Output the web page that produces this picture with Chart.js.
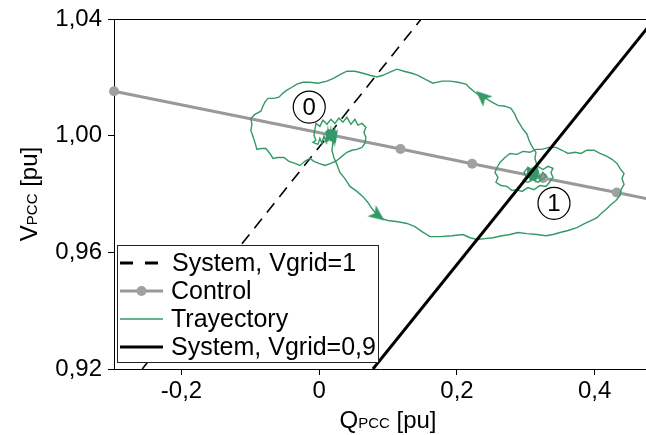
<!DOCTYPE html>
<html>
<head>
<meta charset="utf-8">
<title>VPCC - QPCC</title>
<script src="https://cdn.jsdelivr.net/npm/chart.js@4.4.0/dist/chart.umd.min.js"></script>
<style>
  html, body { margin: 0; padding: 0; background: #fff; }
  #main { width: 646px; height: 435px; }
</style>
</head>
<body>
<div id="main"><canvas id="myChart" width="646" height="435"></canvas></div>
<script>
// axes
var qTicks = [-0.2, 0, 0.2, 0.4];
var qTickLabels = ['-0,2', '0', '0,2', '0,4'];
var vTicks = [0.92, 0.96, 1.00, 1.04];
var vTickLabels = ['0,92', '0,96', '1,00', '1,04'];

// series
var legendLabels = ['System, Vgrid=1', 'Control', 'Trayectory', 'System, Vgrid=0,9'];

var system1Q = [-0.257, 0.148];
var system1V = [0.92, 1.04];

var system09Q = [0.078, 0.487];
var system09V = [0.92, 1.04];

var controlQ = [-0.298, 0.017, 0.118, 0.222, 0.325, 0.432, 0.535];
var controlV = [1.0152, 1.0002, 0.9954, 0.9904, 0.9855, 0.9805, 0.9756];

var trajQ = [
  0.0170, 0.0199, 0.0184, 0.0213, 0.0257, 0.0300, 0.0373, 0.0446, 0.0547, 0.0635,
  0.0707, 0.0765, 0.0824, 0.0896, 0.0998, 0.1143, 0.1274, 0.1390, 0.1492, 0.1608,
  0.1753, 0.1927, 0.2087, 0.2189, 0.2290, 0.2407, 0.2523, 0.2654, 0.2770, 0.2886,
  0.3017, 0.3162, 0.3293, 0.3394, 0.3496, 0.3612, 0.3743, 0.3859, 0.3946, 0.4033,
  0.4106, 0.4179, 0.4237, 0.4309, 0.4367, 0.4382, 0.4426, 0.4396, 0.4426, 0.4367,
  0.4324, 0.4251, 0.4179, 0.4077, 0.3990, 0.3888, 0.3801, 0.3714, 0.3612, 0.3525,
  0.3438, 0.3336, 0.3234, 0.3147, 0.3060, 0.2959, 0.2871, 0.2770, 0.2697, 0.2625,
  0.2581, 0.2552, 0.2596, 0.2566, 0.2639, 0.2726, 0.2799, 0.2871, 0.2944, 0.3031,
  0.3118, 0.3205, 0.3293, 0.3351, 0.3394, 0.3365, 0.3394, 0.3322, 0.3249, 0.3176,
  0.3104, 0.3031, 0.2973, 0.3002, 0.2959, 0.3031, 0.3104, 0.3176, 0.3249, 0.3293,
  0.3249, 0.3205, 0.3176, 0.3147, 0.3118, 0.3089, 0.3060, 0.3046, 0.3075, 0.3104,
  0.3133, 0.3162, 0.3147,
  0.3133, 0.3104, 0.3075, 0.3046, 0.3017, 0.3031, 0.3060, 0.3089, 0.3118, 0.3147,
  0.3176, 0.3162,
  0.3162, 0.3133, 0.3147, 0.3089, 0.3046, 0.3017, 0.2959, 0.2915, 0.2871, 0.2842,
  0.2784, 0.2697, 0.2596, 0.2508, 0.2436, 0.2349, 0.2261, 0.2189, 0.2131, 0.2014,
  0.1898, 0.1782, 0.1651, 0.1535, 0.1434, 0.1346, 0.1230, 0.1129, 0.1027, 0.0925,
  0.0838, 0.0736, 0.0635, 0.0518, 0.0402, 0.0315, 0.0213, 0.0112, -0.0019, -0.0135,
  -0.0237, -0.0324, -0.0397, -0.0469, -0.0527, -0.0585, -0.0658, -0.0745, -0.0789, -0.0818,
  -0.0847, -0.0934, -0.0992, -0.0978, -0.0992, -0.0963, -0.0934, -0.0905, -0.0847, -0.0774,
  -0.0716, -0.0672, -0.0600, -0.0513, -0.0440, -0.0353, -0.0280, -0.0208, -0.0135, -0.0077,
  -0.0004, 0.0083, 0.0170, 0.0257, 0.0329, 0.0402, 0.0475, 0.0547, 0.0620, 0.0664,
  0.0678, 0.0649, 0.0678, 0.0620, 0.0562, 0.0518, 0.0460, 0.0402, 0.0344, 0.0286,
  0.0228, 0.0170, 0.0112, 0.0054, 0.0010, -0.0048, -0.0062, -0.0077, -0.0048, -0.0092,
  -0.0019, 0.0010, 0.0039, 0.0068, 0.0097, 0.0112, 0.0126, 0.0141, 0.0155, 0.0170,
  0.0184, 0.0199, 0.0213, 0.0228, 0.0242, 0.0257, 0.0213, 0.0184,
  0.0242, 0.0228, 0.0213, 0.0199, 0.0184, 0.0170, 0.0155, 0.0141, 0.0126, 0.0112,
  0.0097, 0.0126, 0.0155, 0.0184
];
var trajV = [
  1.0001, 0.9977, 0.9950, 0.9925, 0.9901, 0.9874, 0.9853, 0.9826, 0.9809, 0.9791,
  0.9771, 0.9750, 0.9733, 0.9716, 0.9709, 0.9705, 0.9699, 0.9688, 0.9671, 0.9654,
  0.9654, 0.9657, 0.9661, 0.9650, 0.9644, 0.9647, 0.9650, 0.9657, 0.9661, 0.9668,
  0.9664, 0.9661, 0.9657, 0.9661, 0.9668, 0.9675, 0.9685, 0.9699, 0.9709, 0.9719,
  0.9736, 0.9750, 0.9764, 0.9778, 0.9795, 0.9815, 0.9833, 0.9853, 0.9870, 0.9888,
  0.9905, 0.9919, 0.9929, 0.9939, 0.9950, 0.9950, 0.9939, 0.9943, 0.9939, 0.9950,
  0.9960, 0.9960, 0.9953, 0.9953, 0.9943, 0.9946, 0.9936, 0.9939, 0.9925, 0.9908,
  0.9891, 0.9874, 0.9857, 0.9840, 0.9829, 0.9826, 0.9812, 0.9815, 0.9809, 0.9822,
  0.9815, 0.9829, 0.9826, 0.9843, 0.9857, 0.9874, 0.9888, 0.9895, 0.9884, 0.9895,
  0.9881, 0.9891, 0.9874, 0.9860, 0.9846, 0.9840, 0.9850, 0.9840, 0.9853, 0.9860,
  0.9874, 0.9853, 0.9881, 0.9850, 0.9884, 0.9853, 0.9881, 0.9857, 0.9877, 0.9853,
  0.9881, 0.9857, 0.9874,
  0.9850, 0.9884, 0.9850, 0.9881, 0.9853, 0.9884, 0.9853, 0.9884, 0.9853, 0.9881,
  0.9853, 0.9874,
  0.9898, 0.9922, 0.9943, 0.9963, 0.9984, 1.0005, 1.0022, 1.0039, 1.0056, 1.0073,
  1.0094, 1.0101, 1.0104, 1.0115, 1.0125, 1.0135, 1.0149, 1.0163, 1.0177, 1.0183,
  1.0187, 1.0187, 1.0180, 1.0194, 1.0207, 1.0214, 1.0221, 1.0228, 1.0218, 1.0207,
  1.0201, 1.0207, 1.0214, 1.0221, 1.0221, 1.0211, 1.0197, 1.0187, 1.0180, 1.0183,
  1.0183, 1.0177, 1.0166, 1.0156, 1.0146, 1.0132, 1.0128, 1.0128, 1.0115, 1.0101,
  1.0084, 1.0073, 1.0060, 1.0039, 1.0018, 0.9998, 0.9977, 0.9953, 0.9956, 0.9956,
  0.9939, 0.9922, 0.9925, 0.9925, 0.9912, 0.9905, 0.9898, 0.9912, 0.9922, 0.9912,
  0.9905, 0.9898, 0.9905, 0.9915, 0.9929, 0.9943, 0.9950, 0.9953, 0.9960, 0.9974,
  0.9994, 1.0011, 1.0029, 1.0042, 1.0036, 1.0056, 1.0039, 1.0063, 1.0046, 1.0060,
  1.0042, 1.0056, 1.0039, 1.0053, 1.0032, 1.0042, 1.0022, 1.0001, 0.9984, 0.9977,
  0.9970, 0.9991, 0.9974, 0.9998, 0.9980, 1.0018, 0.9980, 1.0022, 0.9984, 1.0018,
  0.9984, 1.0022, 0.9987, 1.0018, 0.9991, 1.0015, 1.0001, 1.0005,
  1.0008, 0.9980, 1.0022, 0.9980, 1.0018, 0.9980, 1.0022, 0.9984, 1.0018, 0.9987,
  1.0015, 0.9994, 1.0005, 1.0005
];

// arrow heads on the trajectory
var arrowQ = [0.0853, 0.2363];
var arrowV = [0.9726, 1.0135];

// operating point labels
var stateNames = ['0', '1'];
var stateQ = [-0.0145, 0.3409];
var stateV = [1.0098, 0.9768];

var GREEN = '#339966';
var GRAY = '#999999';
var FONT = '"Liberation Sans", Arial, Helvetica, sans-serif';

var toXY = function(qs, vs) {
    return qs.map(function(q, i) { return { x: q, y: vs[i] }; });
};

// narrow arrow head, pointing up, used as point style
var arrowHead = document.createElement('canvas');
arrowHead.width = 14;
arrowHead.height = 16;
var actx = arrowHead.getContext('2d');
actx.fillStyle = GREEN;
actx.beginPath();
actx.moveTo(7, 0);
actx.lineTo(14, 16);
actx.lineTo(7, 12);
actx.lineTo(0, 16);
actx.closePath();
actx.fill();

var decorations = {
    id: 'decorations',
    afterDatasetsDraw: function(chart) {
        var ctx = chart.ctx, a = chart.chartArea;
        var x = chart.scales.x, y = chart.scales.y;
        ctx.save();
        // top frame line
        ctx.strokeStyle = '#000';
        ctx.lineWidth = 1;
        ctx.beginPath();
        ctx.moveTo(a.left, a.top + 0.5);
        ctx.lineTo(a.right, a.top + 0.5);
        ctx.stroke();

        // state numbers inside circles
        ctx.fillStyle = '#000';
        ctx.font = '24px ' + FONT;
        ctx.textAlign = 'center';
        ctx.textBaseline = 'middle';
        stateNames.forEach(function(t, i) {
            ctx.fillText(t, x.getPixelForValue(stateQ[i]), y.getPixelForValue(stateV[i]) + 1);
        });

        // legend box
        var lx = a.left + 3, lw = 261, lh = 117;
        var ly = a.bottom - 7 - lh;
        ctx.fillStyle = '#fff';
        ctx.fillRect(lx, ly, lw, lh);
        ctx.strokeStyle = '#222';
        ctx.lineWidth = 1;
        ctx.strokeRect(lx + 0.5, ly + 0.5, lw, lh);

        ctx.font = '25px ' + FONT;
        ctx.textAlign = 'left';
        legendLabels.forEach(function(t, i) {
            var ry = ly + 18 + i * 28;
            var x0 = lx + 3, x1 = lx + 46;
            ctx.save();
            ctx.beginPath();
            if (i == 0) {
                ctx.strokeStyle = '#000'; ctx.lineWidth = 3; ctx.setLineDash([13, 12]);
            } else if (i == 1) {
                ctx.strokeStyle = GRAY; ctx.lineWidth = 3;
            } else if (i == 2) {
                ctx.strokeStyle = GREEN; ctx.lineWidth = 1.5;
            } else {
                ctx.strokeStyle = '#000'; ctx.lineWidth = 3;
            }
            ctx.moveTo(x0, ry);
            ctx.lineTo(x1, ry);
            ctx.stroke();
            if (i == 1) {
                ctx.fillStyle = '#a0a0a0';
                ctx.beginPath();
                ctx.arc((x0 + x1) / 2, ry, 5, 0, Math.PI * 2);
                ctx.fill();
            }
            ctx.restore();
            ctx.fillStyle = '#000';
            ctx.textBaseline = 'middle';
            ctx.fillText(t, lx + 55 - (i >= 1 ? 1 : 0), ry + 1);
        });
        ctx.restore();
    },
    afterDraw: function(chart) {
        var ctx = chart.ctx, a = chart.chartArea;
        ctx.save();
        ctx.fillStyle = '#000';
        ctx.textBaseline = 'alphabetic';
        ctx.textAlign = 'left';
        var big = '24px ' + FONT, small = '15px ' + FONT;
        var drawTitle = function(cx, main, sub, rest) {
            ctx.font = big; var w1 = ctx.measureText(main).width;
            ctx.font = small; var w2 = ctx.measureText(sub).width;
            ctx.font = big; var w3 = ctx.measureText(rest).width;
            var sx = cx - (w1 + w2 + w3) / 2;
            ctx.font = big; ctx.fillText(main, sx, 0);
            ctx.font = small; ctx.fillText(sub, sx + w1, 0);
            ctx.font = big; ctx.fillText(rest, sx + w1 + w2, 0);
        };
        // x title
        ctx.save();
        ctx.translate(0, 428);
        drawTitle((a.left + a.right) / 2 + 8, 'Q', 'PCC', ' [pu]');
        ctx.restore();
        // y title
        ctx.save();
        ctx.translate(37, (a.top + a.bottom) / 2);
        ctx.rotate(-Math.PI / 2);
        drawTitle(0, 'V', 'PCC', ' [pu]');
        ctx.restore();
        ctx.restore();
    }
};

var ctx = document.getElementById('myChart');
var myChart = new Chart(ctx, {
    type: 'scatter',
    data: {
        datasets: [{
            label: 'states',
            data: toXY(stateQ, stateV),
            pointRadius: 16,
            pointBackgroundColor: '#fff',
            pointBorderColor: '#000',
            pointBorderWidth: 1.2,
            order: 0
        }, {
            label: 'arrows',
            data: toXY(arrowQ, arrowV),
            pointStyle: arrowHead,
            pointRadius: 8,
            pointRotation: [127, 312],
            order: 1
        }, {
            label: legendLabels[3],
            data: toXY(system09Q, system09V),
            showLine: true,
            borderColor: '#000',
            borderWidth: 3,
            pointRadius: 0,
            order: 2
        }, {
            label: legendLabels[2],
            data: toXY(trajQ, trajV),
            showLine: true,
            borderColor: GREEN,
            borderWidth: 1.4,
            pointRadius: 0,
            tension: 0,
            order: 3
        }, {
            label: legendLabels[1],
            data: toXY(controlQ, controlV),
            showLine: true,
            borderColor: GRAY,
            borderWidth: 3,
            pointRadius: 5,
            pointBackgroundColor: '#a0a0a0',
            pointBorderWidth: 0,
            clip: false,
            order: 4
        }, {
            label: legendLabels[0],
            data: toXY(system1Q, system1V),
            showLine: true,
            borderColor: '#000',
            borderWidth: 1.6,
            borderDash: [12, 8],
            pointRadius: 0,
            order: 5
        }]
    },
    options: {
        responsive: false,
        animation: false,
        events: [],
        layout: { autoPadding: false, padding: { top: 19, right: 0, bottom: 0, left: 0 } },
        plugins: {
            legend: { display: false },
            tooltip: { enabled: false }
        },
        scales: {
            x: {
                type: 'linear',
                min: -0.298,
                max: 0.4745,
                afterBuildTicks: function(s) { s.ticks = qTicks.map(function(v) { return { value: v }; }); },
                afterFit: function(s) { s.height = 66; s.paddingLeft = 0; s.paddingRight = 0; },
                ticks: {
                    callback: function(v) { return qTickLabels[qTicks.indexOf(v)]; },
                    color: '#000',
                    font: { size: 24, family: FONT },
                    padding: 2,
                    maxRotation: 0,
                    autoSkip: false
                },
                grid: { drawOnChartArea: false, drawTicks: true, tickLength: 6, color: '#000' },
                border: { display: true, color: '#000', width: 1 }
            },
            y: {
                type: 'linear',
                min: 0.92,
                max: 1.04,
                afterBuildTicks: function(s) { s.ticks = vTicks.map(function(v) { return { value: v }; }); },
                afterFit: function(s) { s.width = 114; s.paddingTop = 0; s.paddingBottom = 0; },
                ticks: {
                    callback: function(v) { return vTickLabels[vTicks.indexOf(v)]; },
                    color: '#000',
                    font: { size: 24, family: FONT },
                    padding: 6,
                    autoSkip: false
                },
                grid: { drawOnChartArea: false, drawTicks: true, tickLength: 6, color: '#000' },
                border: { display: true, color: '#000', width: 1 }
            }
        }
    },
    plugins: [decorations]
});
</script>
</body>
</html>
